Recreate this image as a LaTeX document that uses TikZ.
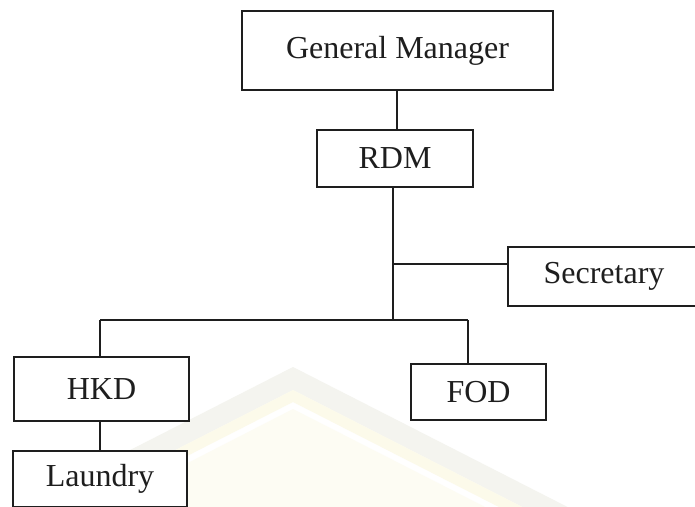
\documentclass[tikz,border=0pt]{standalone}
\usepackage{fontspec}
\setmainfont{Liberation Serif}
\definecolor{ink}{HTML}{1E1E1E}
\definecolor{wmgray}{HTML}{F4F4EF}
\definecolor{wmcream}{HTML}{FCFAEA}
\definecolor{wmfill}{HTML}{FDFCF3}
\tikzset{
  orgbox/.style={draw=ink, line width=1.5pt, fill=white, text=ink,
    inner sep=0pt, font=\fontsize{32}{38}\selectfont},
  link/.style={draw=ink, line width=1.6pt}
}
\begin{document}
\begin{tikzpicture}[x=1pt, y=-1pt]
  \clip (0,0) rectangle (695,506);
  \fill[white] (0,0) rectangle (695,506);

  % faint chevron emblem in the background
  \fill[wmgray] (-60,547) -- (293,367) -- (695,572) -- (695,595) -- (293,390) -- (-60,570) -- cycle;
  \fill[wmcream] (-60,570) -- (293,390) -- (695,595) -- (695,607) -- (293,402) -- (-60,582) -- cycle;
  \fill[wmfill] (-60,590) -- (293,409) -- (695,614) -- (695,520) -- (-60,520) -- cycle;

  % boxes
  \node[orgbox, minimum width=311pt, minimum height=79pt] (gm)  at (397.5,50.5) {General Manager};
  \node[orgbox, minimum width=156pt, minimum height=57pt] (rdm) at (395,158.5) {RDM};
  \node[orgbox, minimum width=192pt, minimum height=59pt] (sec) at (604,276.5) {Secretary};
  \node[orgbox, minimum width=175pt, minimum height=64pt] (hkd) at (101.5,389) {HKD};
  \node[orgbox, minimum width=135pt, minimum height=56pt] (fod) at (478.5,392) {FOD};
  \node[orgbox, minimum width=174pt, minimum height=56pt] (lau) at (100,479) {Laundry};

  % junction points on the trunk
  \coordinate (gmj)  at (397,90);
  \coordinate (secj) at (393,264);
  \coordinate (busj) at (393,320);
  \coordinate (hkdj) at (100,320);
  \coordinate (fodj) at (468,320);

  % connectors
  \draw[link] (gmj |- gm.south) -- (gmj |- rdm.north);
  \draw[link] (rdm.south -| busj) -- (busj);
  \draw[link] (secj) -- (secj -| sec.west);
  \draw[link] (hkdj) -- (fodj);
  \draw[link] (hkdj) -- (hkdj |- hkd.north);
  \draw[link] (fodj) -- (fodj |- fod.north);
  \draw[link] (hkd.south -| lau.north) -- (lau.north);
\end{tikzpicture}
\end{document}
